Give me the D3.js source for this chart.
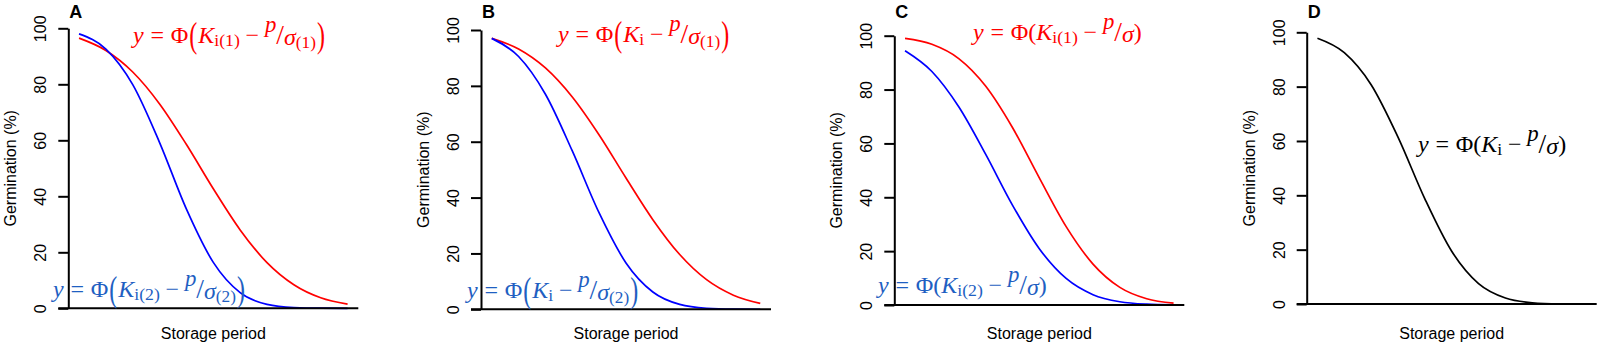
<!DOCTYPE html>
<html>
<head>
<meta charset="utf-8">
<script src="https://cdn.jsdelivr.net/npm/d3@7"></script>
<style>
  body { margin: 0; background: #fff; }
  svg { display: block; }
</style>
</head>
<body>
<div id="chart"></div>
<script>
// storage period, relative (no tick labels on the x axis)
const storagePeriod = [0, 0.1, 0.2, 0.3, 0.4, 0.5, 0.6, 0.7, 0.8, 0.9, 1.0];
const yTicks = [0, 20, 40, 60, 80, 100];
const panelLabels = ["A", "B", "C", "D"];

// germination (%)
const aRed  = [96.5, 92.1, 84.4, 73.0, 58.5, 42.7, 28.0, 16.3, 8.4, 3.75, 1.46];
const aBlue = [98.0, 92.6, 79.9, 59.2, 35.4, 16.4, 5.6, 1.4, 0.26, 0.03, 0.0];
const bRed  = [97.0, 93.2, 86.4, 76.0, 62.4, 47.0, 32.1, 19.6, 10.6, 5.06, 2.1];
const bBlue = [97.0, 90.5, 77.0, 56.7, 34.5, 16.6, 6.2, 1.74, 0.37, 0.06, 0.01];
const cRed  = [99.0, 96.8, 91.5, 81.3, 65.9, 47.2, 29.1, 15.2, 6.55, 2.33, 0.68];
const cBlue = [94.4, 86.7, 73.6, 56.0, 37.1, 20.9, 9.85, 3.84, 1.22, 0.32, 0.07];
const dBlack = [97.8, 92.5, 80.7, 61.4, 38.7, 19.4, 7.5, 2.2, 0.47, 0.08, 0.01];

// subscripts of the equations: [K subscript, sigma subscript]
const eqARed  = ["i(1)", "(1)"];
const eqABlue = ["i(2)", "(2)"];
const eqBRed  = ["i", "(1)"];
const eqBBlue = ["i", "(2)"];
const eqCRed  = ["i(1)", ""];
const eqCBlue = ["i(2)", ""];
const eqD     = ["i", ""];

const RED = "#ff0000", BLUE = "#0000ff", TXT_BLUE = "#1f5fc2";
const SANS = "'Liberation Sans', Arial, sans-serif";
const MATH = "'Liberation Serif', 'Times New Roman', serif";
const MATH_SIZE = 24;

const panels = [
    { label: panelLabels[0], ax: 68.3, top: 28.3, bot: 308.3,
      series: [{ v: aRed, c: RED }, { v: aBlue, c: BLUE }],
      eqs: [{ s: eqARed, big: true, x: 133, y: 43, c: RED },
            { s: eqABlue, big: true, x: 53, y: 297, c: TXT_BLUE }] },
    { label: panelLabels[1], ax: 481, top: 30, bot: 309.3,
      series: [{ v: bRed, c: RED }, { v: bBlue, c: BLUE }],
      eqs: [{ s: eqBRed, big: true, x: 558, y: 42, c: RED },
            { s: eqBBlue, big: true, x: 467, y: 298, c: TXT_BLUE }] },
    { label: panelLabels[2], ax: 894.3, top: 35.7, bot: 305,
      series: [{ v: cRed, c: RED }, { v: cBlue, c: BLUE }],
      eqs: [{ s: eqCRed, big: false, x: 973, y: 40, c: RED },
            { s: eqCBlue, big: false, x: 878, y: 293, c: TXT_BLUE }] },
    { label: panelLabels[3], ax: 1306.7, top: 32.3, bot: 304,
      series: [{ v: dBlack, c: "#000" }],
      eqs: [{ s: eqD, big: false, x: 1418, y: 152, c: "#000" }] }
];
const plotW = 290;

const svg = d3.select("#chart").append("svg")
    .attr("width", 1600)
    .attr("height", 348);

function drawEquation(g, eq) {
    const parts = [
        { t: "y", it: true },
        { t: "=", padL: 0.28, padR: 0.28 },
        { t: "Φ" },
        { t: "(", paren: true },
        { t: "K", it: true },
        { t: eq.s[0], sub: "k" },
        { t: "−", padL: 0.24, padR: 0.24 },
        { t: "p", it: true, sup: true },
        { t: "/", slash: true },
        { t: "σ", it: true, sig: true },
        { t: eq.s[1], sub: "s" },
        { t: ")", paren: true }
    ];
    let x = eq.x;
    parts.forEach(p => {
        if (!p.t) return;
        let fs = MATH_SIZE, dy = 0, sy = 1;
        if (p.sub === "k") { fs = MATH_SIZE * 0.74; dy = 3; }
        if (p.sub === "s") { fs = MATH_SIZE * 0.72; dy = 5; }
        if (p.sup) { fs = MATH_SIZE * 0.95; dy = -11; }
        if (p.slash) { fs = MATH_SIZE * 1.15; dy = 1; }
        if (p.sig) { dy = 1.5; }
        if (p.paren && eq.big) { sy = 1.45; dy = 4; x += 1; }
        x += (p.padL || 0) * MATH_SIZE;
        const t = g.append("text")
            .attr("transform", `translate(${x},${eq.y + dy}) scale(1,${sy})`)
            .attr("font-family", MATH)
            .attr("font-size", fs)
            .attr("font-style", p.it ? "italic" : "normal")
            .attr("fill", eq.c)
            .text(p.t);
        x += t.node().getComputedTextLength() + (p.padR || 0) * MATH_SIZE + (p.paren && eq.big ? 1 : 0);
    });
}

panels.forEach(p => {
    const g = svg.append("g");
    const x = d3.scaleLinear().domain([-0.04, 1.04]).range([p.ax, p.ax + plotW]);
    const y = d3.scaleLinear().domain([0, 100]).range([p.bot, p.top]);

    // curves
    const line = d3.line()
        .x((d, i) => x(storagePeriod[i]))
        .y(d => y(d))
        .curve(d3.curveMonotoneX);
    p.series.forEach(s => {
        g.append("path")
            .attr("d", line(s.v))
            .attr("fill", "none")
            .attr("stroke", s.c)
            .attr("stroke-width", 1.7);
    });

    // y axis
    const yAxis = g.append("g")
        .attr("transform", `translate(${p.ax},0)`)
        .call(d3.axisLeft(y).tickValues(yTicks).tickSize(10).tickSizeOuter(0));
    yAxis.select(".domain").attr("stroke", "#000").attr("stroke-width", 2);
    yAxis.selectAll(".tick line").attr("stroke", "#000").attr("stroke-width", 2);
    yAxis.selectAll(".tick text")
        .attr("x", 0).attr("y", 0).attr("dy", null)
        .attr("text-anchor", "middle")
        .attr("transform", "translate(-22,0) rotate(-90)")
        .attr("font-family", SANS)
        .attr("font-size", 16)
        .attr("fill", "#000");

    // x axis line (no ticks)
    g.append("line")
        .attr("x1", p.ax - 10).attr("x2", p.ax + plotW)
        .attr("y1", p.bot).attr("y2", p.bot)
        .attr("stroke", "#000").attr("stroke-width", 2);

    // titles
    g.append("text")
        .attr("transform", `translate(${p.ax - 52},${(p.top + p.bot) / 2}) rotate(-90)`)
        .attr("text-anchor", "middle")
        .attr("font-family", SANS).attr("font-size", 16)
        .text("Germination (%)");
    g.append("text")
        .attr("x", p.ax + plotW / 2).attr("y", 339)
        .attr("text-anchor", "middle")
        .attr("font-family", SANS).attr("font-size", 16)
        .text("Storage period");
    g.append("text")
        .attr("x", p.ax + 1).attr("y", 18)
        .attr("font-family", SANS).attr("font-size", 18).attr("font-weight", "bold")
        .text(p.label);

    p.eqs.forEach(eq => drawEquation(g, eq));
});
</script>
</body>
</html>
